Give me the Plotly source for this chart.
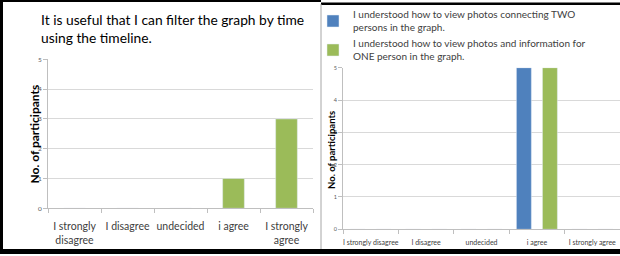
import plotly.graph_objects as go

# ---------------- data ----------------
categories_left = ["I strongly<br>disagree", "I disagree", "undecided", "i agree", "I strongly<br>agree"]
values_left = [0, 0, 0, 1, 3]

categories_right = ["I strongly disagree", "I disagree", "undecided", "i agree", "I strongly agree"]
values_two = [0, 0, 0, 5, 0]
values_one = [0, 0, 0, 5, 0]

title_left = "It is useful that I can filter the graph by time<br>using the timeline."
series_two_name = "I understood how to view photos connecting TWO<br>persons in the graph."
series_one_name = "I understood how to view photos and information for<br>ONE person in the graph."
y_title = "No. of participants"
y_ticks = [0, 1, 2, 3, 4, 5]

# ---------------- layout helpers ----------------
W, H = 620, 256
def px(x):
    return x / W
def py(y):
    return 1 - y / H

BLUE = "#4F81BD"
GREEN = "#9BBB59"
GRID = "#D9D9D9"
AXIS = "#BFBFBF"
FONT = "Lato"

fig = go.Figure()

fig.add_trace(go.Bar(
    x=categories_left, y=values_left, marker_color=GREEN,
    width=0.41, showlegend=False, xaxis="x", yaxis="y",
))
fig.add_trace(go.Bar(
    x=categories_right, y=values_two, marker_color=BLUE, name=series_two_name,
    width=0.27, offset=-0.37, xaxis="x2", yaxis="y2",
))
fig.add_trace(go.Bar(
    x=categories_right, y=values_one, marker_color=GREEN, name=series_one_name,
    width=0.27, offset=0.10, xaxis="x2", yaxis="y2",
))

common_x = dict(
    type="category", range=[-0.5, 4.5], showline=True, linecolor=AXIS, linewidth=1,
    ticks="outside", tickson="boundaries", ticklen=4, tickcolor=AXIS, tickangle=0,
    showgrid=False, zeroline=False, fixedrange=True, automargin=False,
)
common_y = dict(
    range=[0, 5], tickvals=y_ticks, showline=True, linecolor=AXIS, linewidth=1,
    ticks="outside", ticklen=4, tickcolor=AXIS, showgrid=True, gridcolor=GRID,
    gridwidth=1, zeroline=False, fixedrange=True, automargin=False,
)

fig.update_layout(
    width=W, height=H,
    margin=dict(l=0, r=0, t=0, b=0),
    paper_bgcolor="white", plot_bgcolor="white",
    barmode="overlay",
    font=dict(family=FONT, color="#404040"),
    xaxis=dict(common_x, domain=[px(48), px(313)], anchor="y", ticklabelstandoff=8,
               tickfont=dict(size=10.5, color="#404040")),
    yaxis=dict(common_y, domain=[py(208.3), py(59.3)], anchor="x",
               tickfont=dict(size=6.5, color="#595959")),
    xaxis2=dict(common_x, domain=[px(343), px(620)], anchor="y2", ticklabelstandoff=6,
                tickfont=dict(size=7, color="#404040")),
    yaxis2=dict(common_y, domain=[py(229.3), py(67.7)], anchor="x2",
                tickfont=dict(size=5.5, color="#595959")),
    legend=dict(
        x=px(313), y=py(1.5), xanchor="left", yanchor="top",
        font=dict(size=10, color="#404040", family=FONT),
        bgcolor="rgba(0,0,0,0)", tracegroupgap=2, itemwidth=30,
    ),
)

annotations = [
    dict(text=title_left, x=px(39), y=py(9), xref="paper", yref="paper",
         xanchor="left", yanchor="top", align="left", showarrow=False,
         font=dict(size=13.8, color="#000000", family=FONT)),
    dict(text="<b>" + y_title + "</b>", x=px(24), y=py(134), xref="paper", yref="paper",
         textangle=-90, showarrow=False, font=dict(size=12, color="#000000", family=FONT)),
    dict(text="<b>" + y_title + "</b>", x=px(331), y=py(150), xref="paper", yref="paper",
         textangle=-90, showarrow=False, font=dict(size=9.5, color="#000000", family=FONT)),
]
fig.update_layout(annotations=annotations)

shapes = [
    # outer black frame pieces
    dict(type="rect", x0=px(0), x1=px(321), y0=py(0), y1=py(2), xref="paper", yref="paper",
         fillcolor="black", line=dict(width=0)),
    dict(type="rect", x0=px(321), x1=px(620), y0=py(2.5), y1=py(5), xref="paper", yref="paper",
         fillcolor="black", line=dict(width=0)),
    dict(type="rect", x0=px(0), x1=px(3), y0=py(0), y1=py(254), xref="paper", yref="paper",
         fillcolor="black", line=dict(width=0)),
    dict(type="rect", x0=px(0), x1=px(620), y0=py(249), y1=py(254), xref="paper", yref="paper",
         fillcolor="black", line=dict(width=0)),
    # divider between the two panels
    dict(type="line", x0=px(321), x1=px(321), y0=py(4), y1=py(249), xref="paper", yref="paper",
         line=dict(color="#A6A6A6", width=1)),
]
fig.update_layout(shapes=shapes)

fig.write_html(
    "out.html",
    config={"displayModeBar": False, "staticPlot": True},
    post_script="document.body.style.margin='0';document.body.style.overflow='hidden';",
)
